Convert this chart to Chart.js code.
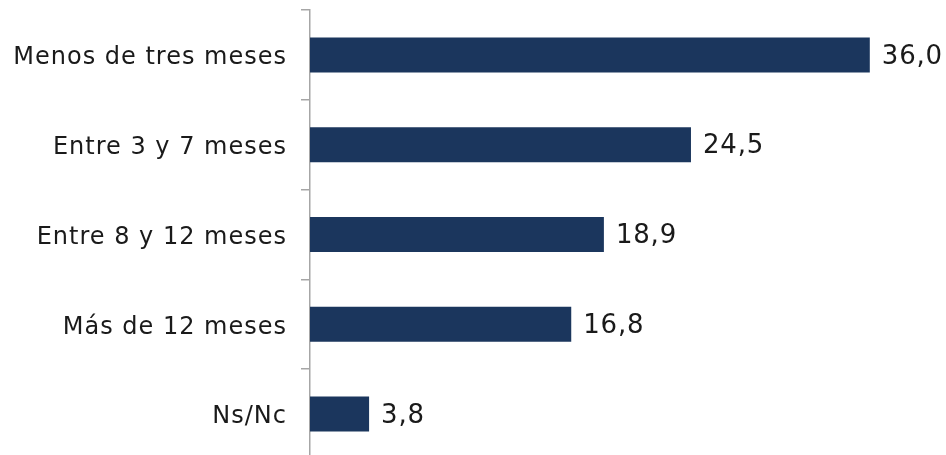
<!DOCTYPE html>
<html>
<head>
<meta charset="utf-8">
<script src="https://cdn.jsdelivr.net/npm/chart.js@4/dist/chart.umd.min.js"></script>
<style>
  html, body { margin: 0; padding: 0; background: #ffffff; overflow: hidden; }
  #wrap { position: relative; width: 946px; height: 470px; }
</style>
</head>
<body>
<div id="wrap"><canvas id="chart"></canvas></div>
<script>
// Tiempo de búsqueda (%)
const categories = ['Menos de tres meses', 'Entre 3 y 7 meses', 'Entre 8 y 12 meses', 'Más de 12 meses', 'Ns/Nc'];
const values = [36.0, 24.5, 18.9, 16.8, 3.8];

const FONT = '"DejaVu Sans", sans-serif';
const TEXT = '#1a1a1a';
const BAR = '#1b365d';

// Slightly open tracking for the category labels
const tracking = {
  id: 'tracking',
  beforeDraw(chart) { chart.ctx.letterSpacing = '1px'; },
  afterDraw(chart) { chart.ctx.letterSpacing = '0px'; }
};

// Writes each bar's value (comma decimal) just past its end
const valueLabels = {
  id: 'valueLabels',
  afterDatasetsDraw(chart) {
    const { ctx } = chart;
    const meta = chart.getDatasetMeta(0);
    ctx.save();
    ctx.letterSpacing = '0.8px';
    ctx.font = '400 26px ' + FONT;
    ctx.fillStyle = TEXT;
    ctx.textAlign = 'left';
    ctx.textBaseline = 'middle';
    meta.data.forEach((bar, i) => {
      const txt = values[i].toFixed(1).replace('.', ',');
      ctx.fillText(txt, bar.x + 12, bar.y + 2);
    });
    ctx.restore();
  }
};

new Chart(document.getElementById('chart'), {
  type: 'bar',
  data: {
    labels: categories,
    datasets: [{
      data: values,
      backgroundColor: BAR,
      borderWidth: 0,
      categoryPercentage: 1,
      barPercentage: 0.39
    }]
  },
  options: {
    indexAxis: 'y',
    responsive: true,
    maintainAspectRatio: false,
    animation: false,
    layout: { autoPadding: false, padding: { top: 10, right: 14, bottom: 11, left: 0 } },
    plugins: { legend: { display: false }, tooltip: { enabled: false } },
    scales: {
      x: { display: false, min: 0, max: 40 },
      y: {
        afterFit(scale) {
          scale.width = 310;
          scale.paddingTop = 0;
          scale.paddingBottom = 0;
        },
        border: { display: true, color: '#a6a6a6', width: 1.5 },
        grid: {
          drawOnChartArea: false,
          drawTicks: true,
          tickLength: 9,
          color: '#a6a6a6',
          lineWidth: 1.5,
          offset: true
        },
        ticks: {
          padding: 14,
          labelOffset: 3,
          color: TEXT,
          font: { family: FONT, size: 24, weight: '400' }
        }
      }
    }
  },
  plugins: [tracking, valueLabels]
});
</script>
</body>
</html>
